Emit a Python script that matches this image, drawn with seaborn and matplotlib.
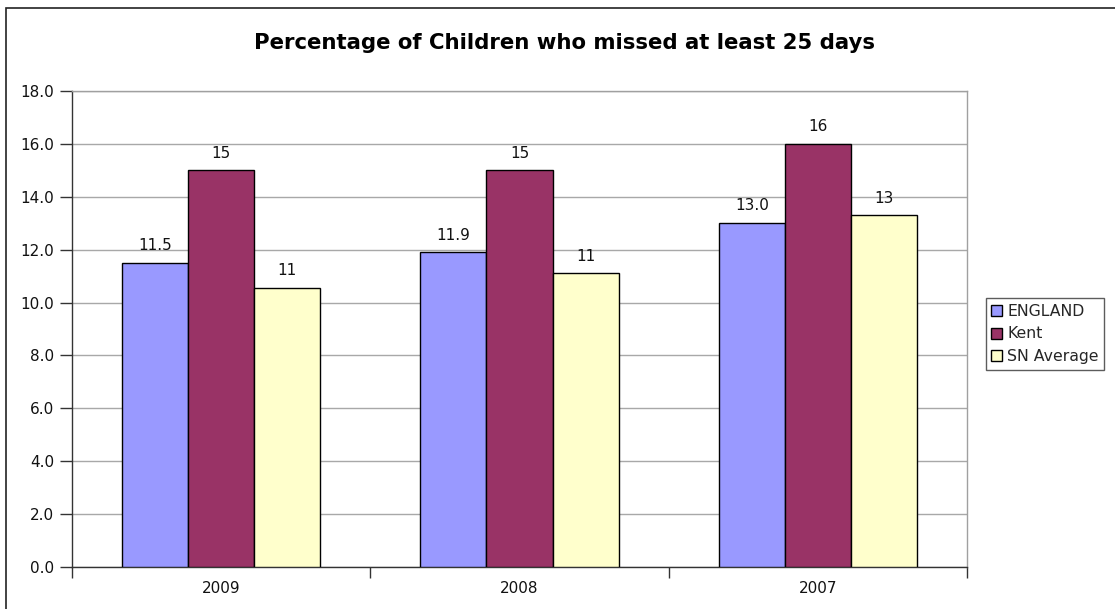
import matplotlib
matplotlib.use("Agg")
import matplotlib.pyplot as plt
from matplotlib.patches import Rectangle, Patch
from matplotlib.ticker import FixedLocator
import seaborn as sns
import pandas as pd

# Chart data
years = ["2009", "2008", "2007"]
series = ["ENGLAND", "Kent", "SN Average"]
england = [11.5, 11.9, 13.0]
kent = [15.0, 15.0, 16.0]
sn_average = [10.55, 11.1, 13.3]
label_formats = ["{:.1f}", "{:.0f}", "{:.0f}"]
colors = ["#9999FF", "#993366", "#FFFFCC"]
title = "Percentage of Children who missed at least 25 days"

df = pd.DataFrame({
    "Year": years * 3,
    "Series": [s for s in series for _ in years],
    "Value": england + kent + sn_average,
})

sns.set_theme(style="white")
plt.rcParams["font.family"] = ["DejaVu Sans"]

fig = plt.figure(figsize=(11.15, 6.09), dpi=100)
fig.patch.set_facecolor("white")
# outer chart frame
fig.patches.append(Rectangle((6 / 1115, -0.05), 1.2, 1 - 8 / 609 + 0.05,
                             transform=fig.transFigure, fill=False,
                             edgecolor="#222222", linewidth=1.2, zorder=0))

ax = fig.add_axes([72 / 1115, 1 - 567 / 609, (967 - 72) / 1115, (567 - 91) / 609])
sns.barplot(data=df, x="Year", y="Value", hue="Series", order=years,
            hue_order=series, palette=colors, width=0.664, gap=0,
            edgecolor="black", linewidth=1, saturation=1, ax=ax,
            legend=False, zorder=3)

ax.set_ylim(0, 18)
ax.set_xlim(-0.5, 2.5)
ax.set_yticks([i * 2 for i in range(10)])
ax.set_yticklabels([f"{i * 2:.1f}" for i in range(10)])
ax.yaxis.grid(True, color="#a8a8a8", linewidth=1)
ax.set_axisbelow(True)
ax.set_xlabel("")
ax.set_ylabel("")

for side in ("top", "right"):
    ax.spines[side].set_color("#a0a0a0")
    ax.spines[side].set_linewidth(1)
for side in ("left", "bottom"):
    ax.spines[side].set_color("#333333")
    ax.spines[side].set_linewidth(1)

ax.tick_params(axis="y", which="major", direction="out", length=9, width=1,
               color="#333333", labelsize=11, labelcolor="#111111", pad=4, left=True)
ax.tick_params(axis="x", which="major", length=0, labelsize=11,
               labelcolor="#111111", pad=10)
ax.xaxis.set_minor_locator(FixedLocator([-0.5, 0.5, 1.5, 2.5]))
ax.tick_params(axis="x", which="minor", direction="out", length=8, width=1,
               color="#333333", bottom=True)

# value labels above each bar
for container, fmt in zip(ax.containers, label_formats):
    ax.bar_label(container, labels=[fmt.format(b.get_height()) for b in container],
                 padding=7, fontsize=11, color="#111111")

fig.text(565 / 1115, 1 - 43 / 609, title, ha="center", va="center",
         fontsize=15.3, fontweight="bold", color="black")

handles = [Patch(facecolor=c, edgecolor="black", linewidth=1) for c in colors]
leg = fig.legend(handles, series, loc="center left",
                 bbox_to_anchor=(986 / 1115, 1 - 334 / 609),
                 frameon=True, fancybox=False, fontsize=11.3,
                 handlelength=0.7, handleheight=0.7, handletextpad=0.3,
                 labelspacing=0.5, borderpad=0.35, borderaxespad=0)
leg.get_frame().set_edgecolor("#333333")
leg.get_frame().set_linewidth(1)

fig.savefig("out.png", dpi=100)
